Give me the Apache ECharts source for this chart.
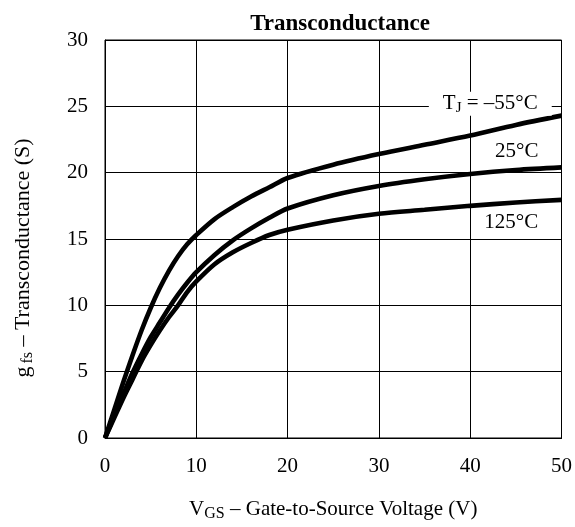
<!DOCTYPE html>
<html><head><meta charset="utf-8">
<script src="https://cdn.jsdelivr.net/npm/echarts@6/dist/echarts.min.js"></script>
<style>html,body{margin:0;padding:0;background:#fff}#c{width:575px;height:527px}</style>
</head><body><div id="c"></div>
<script>
const xTicks = [0, 10, 20, 30, 40, 50];
const yTicks = [0, 5, 10, 15, 20, 25, 30];
const vgs = [0, 1, 2, 3, 4, 5, 6, 7, 8, 9, 10, 12, 14, 16, 18, 20, 25, 30, 35, 40, 45, 50];
const gM55 = [0, 2.1, 4.2, 6.2, 8.1, 9.8, 11.3, 12.6, 13.7, 14.6, 15.3, 16.5, 17.4, 18.2, 18.9, 19.6, 20.6, 21.4, 22.1, 22.8, 23.6, 24.3];
const g25 = [0, 1.65, 3.3, 4.9, 6.3, 7.6, 8.7, 9.8, 10.8, 11.7, 12.5, 13.8, 14.9, 15.8, 16.6, 17.3, 18.3, 19.0, 19.5, 19.9, 20.2, 20.4];
const g125 = [0, 1.5, 3.0, 4.4, 5.8, 7.0, 8.1, 9.1, 10.0, 11.0, 11.8, 13.1, 14.0, 14.7, 15.3, 15.7, 16.4, 16.9, 17.2, 17.5, 17.75, 17.95];
const curveLabels = ['T_J = \u201355\u00b0C', '25\u00b0C', '125\u00b0C'];
const labelPos = [[42.2, 25.2], [45.1, 21.6], [44.5, 16.25]];

const font = 'Liberation Serif';
function pairs(ys){ return vgs.map((x,i)=>[x, ys[i]]); }
function mk(name, ys, idx){
  const lbl = idx === 0
    ? '{n|T}{s|J}{n| = \u201355\u00b0C}'
    : '{n|' + curveLabels[idx] + '}';
  return {
    name, type:'line', data: pairs(ys), smooth: 0.3, symbol:'none',
    lineStyle:{color:'#000', width:4.6},
    markPoint:{
      symbol:'rect', symbolSize:1, itemStyle:{color:'rgba(0,0,0,0)'},
      data:[{coord: labelPos[idx]}],
      label:{show:true, position:'inside', formatter: lbl,
        backgroundColor: idx===0 ? '#fff' : 'transparent',
        padding: idx===0 ? [0,14,0,14] : 0,
        rich:{
          n:{fontFamily:font, fontSize:21, color:'#000'},
          s:{fontFamily:font, fontSize:15, color:'#000', padding:[9,0,0,0]}
        }}
    },
    z: 3
  };
}
const chart = echarts.init(document.getElementById('c'), null, {renderer:'canvas'});
chart.setOption({
  animation:false,
  backgroundColor:'#fff',
  title:{text:'Transconductance', left:335, textAlign:'center', top:8,
    textStyle:{fontFamily:font, fontWeight:'bold', fontSize:23, color:'#000'}},
  grid:{left:105, right:10, top:40, bottom:79, show:true, borderColor:'#000', borderWidth:1},
  xAxis:{type:'value', min:xTicks[0], max:xTicks[xTicks.length-1], interval:10,
    axisLine:{show:true, lineStyle:{color:'#000'}}, axisTick:{show:false},
    splitLine:{show:true, lineStyle:{color:'#000', width:1}},
    axisLabel:{fontFamily:font, fontSize:21, color:'#000', margin:18},
    name:'{n|V}{s|GS}{n| \u2013 Gate-to-Source Voltage (V)}', nameLocation:'middle', nameGap:58,
    nameTextStyle:{rich:{
      n:{fontFamily:font, fontSize:21, color:'#000'},
      s:{fontFamily:font, fontSize:16, color:'#000', padding:[10,0,0,0]}}}
  },
  yAxis:{type:'value', min:yTicks[0], max:yTicks[yTicks.length-1], interval:5,
    axisLine:{show:true, lineStyle:{color:'#000'}}, axisTick:{show:false},
    splitLine:{show:true, lineStyle:{color:'#000', width:1}},
    axisLabel:{fontFamily:font, fontSize:21, color:'#000', margin:17},
    name:'{n|g}{s|fs}{n| \u2013 Transconductance (S)}', nameLocation:'middle', nameGap:69,
    nameTextStyle:{padding:[0,38,0,0], rich:{
      n:{fontFamily:font, fontSize:22, color:'#000'},
      s:{fontFamily:font, fontSize:16, color:'#000', padding:[10,0,0,3]}}}
  },
  series:[mk('-55', gM55, 0), mk('25', g25, 1), mk('125', g125, 2)]
});
</script></body></html>
